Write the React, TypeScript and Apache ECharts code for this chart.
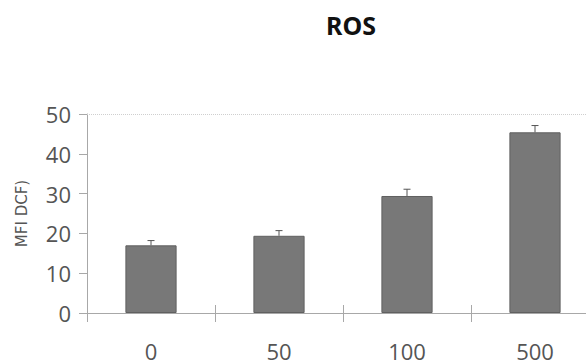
import React, { useEffect, useRef } from "react";
import * as echarts from "echarts";

const categories = ["0", "50", "100", "500"];
const means = [17.0, 19.4, 29.4, 45.4];
const errorTops = [18.2, 20.7, 31.1, 47.1];
const yTicks = { min: 0, max: 50, interval: 10 };
const titleText = "ROS";
const yName = "MFI DCF)";

export default function App() {
  const ref = useRef<HTMLDivElement>(null);
  useEffect(() => {
    if (!ref.current) return;
    const chart = echarts.init(ref.current, undefined, { renderer: "svg" });
    const axisColor = "#a8a8a8";
    const labelColor = "#555";
    const font = "Open Sans";
    chart.setOption({
      animation: false,
      backgroundColor: "#ffffff",
      grid: { left: 87, top: 114, width: 512, height: 199, containLabel: false },
      graphic: [
        {
          type: "text",
          x: 351,
          y: 25,
          style: {
            text: titleText,
            fill: "#111",
            font: "bold 25px 'Noto Sans'",
            textAlign: "center",
            textVerticalAlign: "middle",
          },
        },
      ],
      xAxis: [
        {
          type: "category",
          data: categories,
          position: "bottom",
          boundaryGap: true,
          axisLine: { show: true, lineStyle: { color: axisColor, width: 1 } },
          axisTick: { show: true, length: 9, inside: false, lineStyle: { color: axisColor } },
          axisLabel: { fontSize: 22, color: labelColor, fontFamily: font, margin: 27 },
          splitLine: { show: false },
        },
        {
          type: "category",
          data: categories,
          position: "bottom",
          offset: 0,
          boundaryGap: true,
          axisLine: { show: false },
          axisTick: { show: true, length: 8, inside: true, lineStyle: { color: axisColor } },
          axisLabel: { show: false },
          splitLine: { show: false },
        },
      ],
      yAxis: {
        type: "value",
        min: yTicks.min,
        max: yTicks.max,
        interval: yTicks.interval,
        name: yName,
        nameLocation: "middle",
        nameGap: 58,
        nameRotate: 90,
        nameTextStyle: { fontSize: 15, color: labelColor, fontFamily: "DejaVu Sans" },
        axisLine: { show: true, lineStyle: { color: axisColor, width: 1 } },
        axisTick: { show: true, length: 8, inside: false, lineStyle: { color: axisColor } },
        axisLabel: { fontSize: 22, color: labelColor, fontFamily: font, margin: 16 },
        splitLine: { show: false },
      },
      series: [
        {
          type: "bar",
          data: means,
          barWidth: "40%",
          itemStyle: { color: "#787878", borderColor: "#606060", borderWidth: 1 },
          markLine: {
            silent: true,
            symbol: "none",
            label: { show: false },
            lineStyle: { type: "dotted", color: "#cfcfcf", width: 1 },
            data: [{ yAxis: yTicks.max }],
          },
        },
        {
          type: "custom",
          data: categories.map((_, i) => [i, means[i], errorTops[i]]),
          encode: { x: 0, y: [1, 2] },
          z: 3,
          renderItem: (params: any, api: any) => {
            const i = api.value(0);
            const base = api.coord([i, api.value(1)]);
            const top = api.coord([i, api.value(2)]);
            const half = 3.5;
            const style = { stroke: "#555", lineWidth: 1 };
            return {
              type: "group",
              children: [
                { type: "line", shape: { x1: top[0], y1: base[1], x2: top[0], y2: top[1] }, style },
                { type: "line", shape: { x1: top[0] - half, y1: top[1], x2: top[0] + half, y2: top[1] }, style },
              ],
            };
          },
        },
      ],
    });
    return () => chart.dispose();
  }, []);
  return (
    <div
      style={{ position: "absolute", left: 0, top: 0, width: 586, height: 364, overflow: "hidden" }}
    >
      <div ref={ref} style={{ width: 620, height: 364 }} />
    </div>
  );
}
